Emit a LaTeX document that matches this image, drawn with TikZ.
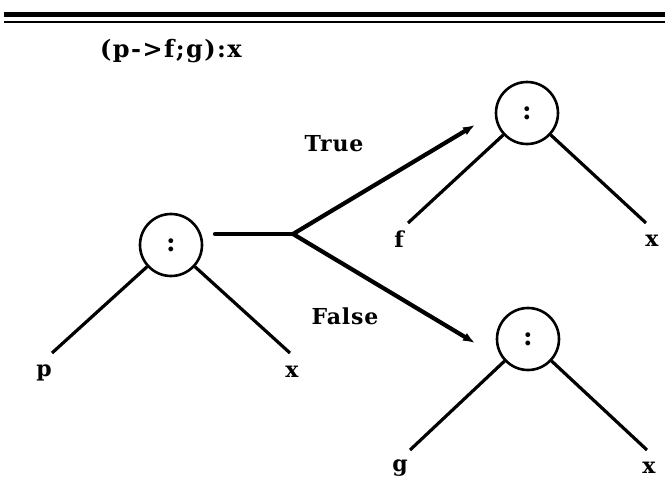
\documentclass[tikz,border=0pt]{standalone}
\usepackage{fontspec}
\setmainfont{DejaVu Serif}
\usetikzlibrary{arrows.meta}
\begin{document}
\begin{tikzpicture}[x=1pt,y=-1pt,
  lbl/.style={font=\bfseries\fontsize{22}{26}\selectfont, inner sep=0pt},
  circ/.style={circle, draw, line width=2.6pt, minimum size=62pt, inner sep=0pt, font=\bfseries\fontsize{26}{30}\selectfont},
  edge/.style={line width=3.2pt},
  branch/.style={line width=4.2pt, line cap=round},
  tip/.style={-{Latex[length=12pt,width=9pt]}}
]
\useasboundingbox (0,0) rectangle (665,503);
% top rules
\coordinate (r1a) at (4,14.5);
\coordinate (r1b) at (665,14.5);
\coordinate (r2a) at (4,22);
\coordinate (r2b) at (665,22);
\draw[line width=4.5pt] (r1a) -- (r1b);
\draw[line width=2.5pt] (r2a) -- (r2b);
% title
\node[lbl, anchor=base west, font=\bfseries\fontsize{24}{28}\selectfont\addfontfeature{LetterSpace=6}] (title) at (100,58) {(p-{}>f;g):x};
% circles
\node[circ] (L) at (171,245) {:};
\node[circ] (T) at (527,113) {:};
\node[circ] (B) at (528,339) {:};
% left tree
\coordinate (Lp) at (52,353);
\coordinate (Lx) at (290,353);
\draw[edge] (L) -- (Lp);
\draw[edge] (L) -- (Lx);
\node[lbl] (p) at (44,373) {p};
\node[lbl] (x1) at (292,372) {x};
% top tree
\coordinate (Tf) at (408,223);
\coordinate (Tx) at (646,223);
\draw[edge] (T) -- (Tf);
\draw[edge] (T) -- (Tx);
\node[lbl] (f) at (399,239) {f};
\node[lbl] (x2) at (652,241) {x};
% bottom tree
\coordinate (Bg) at (410,450);
\coordinate (Bx) at (647,450);
\draw[edge] (B) -- (Bg);
\draw[edge] (B) -- (Bx);
\node[lbl] (g) at (400,468) {g};
\node[lbl] (x3) at (649,468) {x};
% branching
\coordinate (H) at (215,234);
\coordinate (J) at (293,234);
\coordinate (At) at (475,125);
\coordinate (Ab) at (475,343);
\draw[branch] (H) -- (J);
\draw[branch, tip] (J) -- (At);
\draw[branch, tip] (J) -- (Ab);
\node[lbl, font=\bfseries\fontsize{22}{26}\selectfont\addfontfeature{LetterSpace=4}] (true) at (334,144) {True};
\node[lbl, font=\bfseries\fontsize{22}{26}\selectfont\addfontfeature{LetterSpace=4}] (false) at (345,316) {False};
\end{tikzpicture}
\end{document}
